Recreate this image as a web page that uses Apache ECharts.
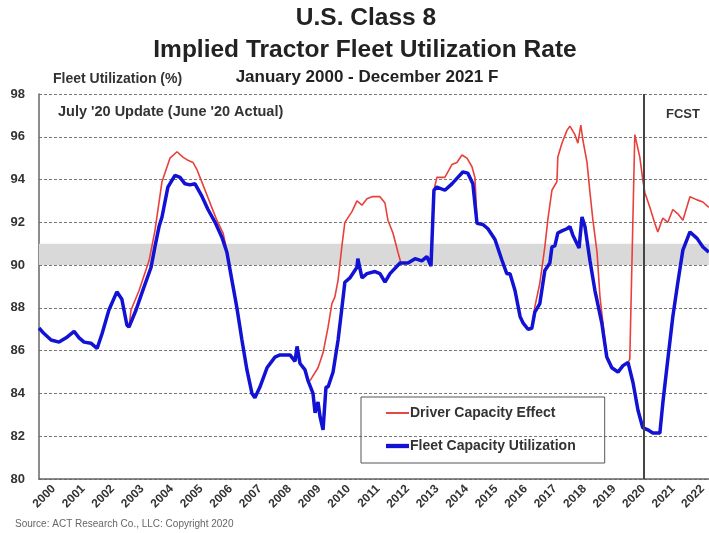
<!DOCTYPE html>
<html>
<head>
<meta charset="utf-8">
<script src="https://cdn.jsdelivr.net/npm/echarts@6/dist/echarts.min.js"></script>
<style>html,body{margin:0;padding:0;background:#fff;}#c{width:709px;height:533px;}</style>
</head>
<body>
<div id="c"></div>
<script>
// Fleet Capacity Utilization (decimal year, %)
var blueYears = [2000.00,2000.17,2000.41,2000.68,2000.92,2001.19,2001.36,2001.53,2001.76,2001.97,2002.14,2002.37,2002.64,2002.81,2002.98,2003.05,2003.29,2003.49,2003.80,2003.93,2004.07,2004.17,2004.37,2004.61,2004.78,2004.95,2005.12,2005.29,2005.53,2005.73,2005.97,2006.20,2006.37,2006.54,2006.71,2006.88,2007.05,2007.22,2007.32,2007.49,2007.73,2008.00,2008.17,2008.51,2008.68,2008.75,2008.85,2009.02,2009.12,2009.29,2009.36,2009.46,2009.53,2009.63,2009.73,2009.80,2009.97,2010.14,2010.27,2010.37,2010.54,2010.78,2010.81,2010.95,2011.12,2011.39,2011.56,2011.73,2011.90,2012.24,2012.51,2012.75,2012.98,2013.15,2013.29,2013.39,2013.49,2013.76,2014.00,2014.20,2014.37,2014.54,2014.71,2014.85,2015.05,2015.22,2015.46,2015.69,2015.86,2015.97,2016.14,2016.31,2016.41,2016.58,2016.71,2016.81,2016.98,2017.15,2017.32,2017.39,2017.49,2017.59,2017.73,2017.90,2018.00,2018.10,2018.24,2018.31,2018.41,2018.51,2018.68,2018.85,2019.08,2019.25,2019.42,2019.63,2019.80,2019.97,2020.14,2020.31,2020.47,2020.64,2020.81,2021.05,2021.15,2021.32,2021.49,2021.66,2021.83,2022.07,2022.31,2022.51,2022.71];
var blueValues = [87.06,86.8,86.5,86.4,86.6,86.9,86.6,86.4,86.35,86.1,86.8,87.9,88.75,88.4,87.2,87.1,87.9,88.7,89.9,90.85,91.8,92.25,93.65,94.2,94.1,93.8,93.75,93.8,93.2,92.6,92.0,91.3,90.6,89.3,88.0,86.5,85.1,84.0,83.8,84.3,85.2,85.7,85.8,85.8,85.5,86.2,85.4,85.1,84.6,84.0,83.1,83.6,82.9,82.3,84.3,84.3,85.0,86.5,88.0,89.2,89.4,89.9,90.3,89.4,89.6,89.7,89.6,89.2,89.6,90.1,90.1,90.3,90.2,90.4,89.95,93.5,93.65,93.5,93.8,94.1,94.35,94.3,93.8,91.95,91.9,91.7,91.2,90.25,89.6,89.6,88.8,87.6,87.3,87.0,87.05,87.8,88.2,89.75,90.1,90.85,90.9,91.5,91.6,91.7,91.8,91.4,91.0,90.8,92.25,91.8,90.2,88.8,87.3,85.7,85.2,85.0,85.3,85.45,84.5,83.2,82.4,82.3,82.15,82.15,83.55,85.6,87.6,89.2,90.7,91.55,91.25,90.85,90.6];

// Driver Capacity Effect (only where it departs from the fleet line; null = gap)
var redYears = [2003.05,2003.12,2003.39,2003.73,2003.93,2004.17,2004.44,2004.68,2004.88,2005.05,2005.22,2005.36,2005.56,2005.80,2006.03,2006.24,2006.37,2006.51,2007.0,
  2009.19,2009.46,2009.63,2009.80,2009.93,2010.03,2010.14,2010.27,2010.37,2010.61,2010.78,2010.95,2011.12,2011.29,2011.56,2011.73,2011.83,2012.00,2012.17,2012.27,2012.5,
  2013.39,2013.49,2013.76,2014.00,2014.17,2014.34,2014.51,2014.68,2014.78,2014.85,2015.5,
  2016.71,2016.81,2016.98,2017.15,2017.25,2017.39,2017.56,2017.59,2017.73,2017.90,2018.00,2018.17,2018.27,2018.37,2018.44,2018.58,2018.68,2018.78,2018.92,2019.02,2019.12,2019.25,2019.5,
  2019.97,2020.03,2020.20,2020.37,2020.47,2020.54,2020.71,2020.88,2020.98,2021.15,2021.32,2021.49,2021.66,2021.83,2022.07,2022.31,2022.51,2022.71];
var redValues = [87.1,87.9,88.8,90.2,91.6,93.9,95.0,95.3,95.05,94.9,94.8,94.45,93.75,92.9,92.1,91.5,90.7,89.6,null,
  84.6,85.2,85.9,87.1,88.2,88.5,89.3,90.9,92.0,92.5,93.0,92.8,93.1,93.2,93.2,92.9,92.1,91.5,90.6,90.1,null,
  93.5,94.1,94.1,94.7,94.8,95.15,95.0,94.6,94.1,92.1,null,
  87.05,88.05,89.15,90.85,92.1,93.5,93.9,95.05,95.7,96.3,96.5,96.1,95.7,96.55,95.85,94.8,93.4,92.1,90.6,88.5,87.3,85.7,null,
  85.45,85.6,96.1,95.05,94.0,93.4,92.7,91.95,91.55,92.2,92.0,92.6,92.4,92.1,93.2,93.05,92.95,92.7];

var yTicks = [80,82,84,86,88,90,92,94,96,98];
var bandRange = [90,91];
var forecastStart = 2020.5;

var blueData = blueYears.map(function(t,i){return [t, blueValues[i]];});
var redData = redYears.map(function(t,i){return [t, redValues[i] === null ? '-' : redValues[i]];});

var chart = echarts.init(document.getElementById('c'), null, {renderer:'canvas'});
var FONT = 'Liberation Sans, Arial, sans-serif';
chart.setOption({
  backgroundColor:'#fff',
  animation:false,
  textStyle:{fontFamily:FONT},
  grid:{left:39, right:0, top:94, bottom:54},
  xAxis:{
    type:'value', min:2000, max:2022.71, interval:0.5,
    axisLine:{show:true, lineStyle:{color:'#666', width:1.5}},
    axisTick:{show:false},
    splitLine:{show:false},
    axisLabel:{
      rotate:45, margin:8, fontSize:12, fontWeight:'bold', color:'#333', fontFamily:FONT,
      showMaxLabel:false,
      formatter:function(v){ var f=v-Math.floor(v); return Math.abs(f-0.5)<0.01 ? String(Math.floor(v)) : ''; }
    }
  },
  yAxis:{
    type:'value', min:yTicks[0], max:yTicks[yTicks.length-1], interval:2,
    axisLine:{show:true, lineStyle:{color:'#666', width:1.5}},
    axisTick:{show:false},
    splitLine:{show:true, lineStyle:{color:'#777', type:[3,2], width:1}},
    axisLabel:{margin:14, fontSize:13, fontWeight:'bold', color:'#333', fontFamily:FONT}
  },
  legend:{
    orient:'vertical', left:361, top:397,
    padding:[9,29,10,25], itemGap:19, itemWidth:23, itemHeight:14,
    borderColor:'#555', borderWidth:1, backgroundColor:'transparent',
    textStyle:{fontSize:14, fontWeight:'bold', color:'#333', fontFamily:FONT, padding:[0,0,0,-4]},
    data:[
      {name:'Driver Capacity Effect', icon:'path://M0,0H24V2H0Z', itemStyle:{color:'#e8403a'}},
      {name:'Fleet Capacity Utilization', icon:'path://M0,0H24V4.5H0Z', itemStyle:{color:'#1212d4'}}
    ]
  },
  series:[
    {
      name:'Driver Capacity Effect', type:'line', data:redData, symbol:'none', z:2,
      connectNulls:false,
      lineStyle:{color:'#e8403a', width:1.6}, itemStyle:{color:'#e8403a'},
      markArea:{silent:true, itemStyle:{color:'#d9d9d9'}, data:[[{yAxis:bandRange[0]},{yAxis:bandRange[1]}]]},
      markLine:{silent:true, symbol:['none','none'], label:{show:false},
        lineStyle:{color:'#444', width:2, type:'solid'}, data:[{xAxis:forecastStart}]}
    },
    {
      name:'Fleet Capacity Utilization', type:'line', data:blueData, symbol:'none', z:3,
      lineStyle:{color:'#1212d4', width:3.5}, itemStyle:{color:'#1212d4'}
    }
  ],
  graphic:[
    {type:'text', x:366, y:18, style:{text:'U.S. Class 8', font:'bold 24.5px '+FONT, fill:'#222', align:'center', verticalAlign:'middle'}},
    {type:'text', x:365, y:50, style:{text:'Implied Tractor Fleet Utilization Rate', font:'bold 24.5px '+FONT, fill:'#222', align:'center', verticalAlign:'middle'}},
    {type:'text', x:367, y:77, style:{text:'January 2000 - December 2021 F', font:'bold 17px '+FONT, fill:'#222', align:'center', verticalAlign:'middle'}},
    {type:'text', x:53, y:79, style:{text:'Fleet Utilization (%)', font:'bold 14px '+FONT, fill:'#333', verticalAlign:'middle'}},
    {type:'text', x:58, y:112, style:{text:"July '20 Update (June '20 Actual)", font:'bold 14.5px '+FONT, fill:'#333', verticalAlign:'middle'}},
    {type:'text', x:666, y:114, style:{text:'FCST', font:'bold 13px '+FONT, fill:'#333', verticalAlign:'middle'}},
    {type:'text', x:15, y:524, style:{text:'Source: ACT Research Co., LLC: Copyright 2020', font:'10px '+FONT, fill:'#666', verticalAlign:'middle'}}
  ]
});
</script>
</body>
</html>
